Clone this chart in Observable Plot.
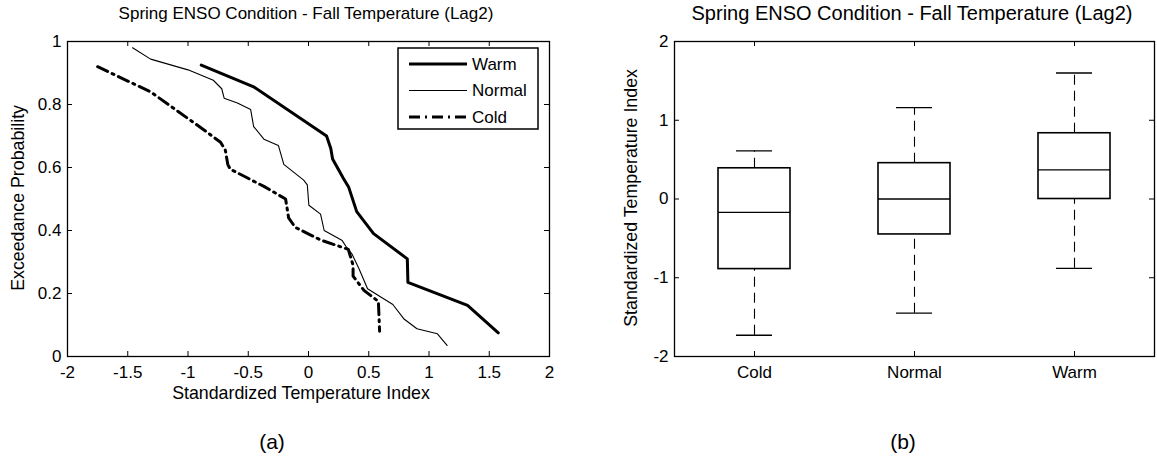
<!DOCTYPE html>
<html><head><meta charset="utf-8">
<script src="https://cdn.jsdelivr.net/npm/d3@7"></script>
<script src="https://cdn.jsdelivr.net/npm/@observablehq/plot@0.6"></script>
<style>
body{margin:0;background:#fff;font-family:"Liberation Sans",Arial,sans-serif;color:#000}
#wrap{position:relative;width:1157px;height:456px;overflow:hidden;background:#fff}
.abs{position:absolute;white-space:nowrap;line-height:1}
.plot{position:absolute;top:0}
</style></head><body><div id="wrap"></div>
<script>
// ---------- Panel (a): exceedance curves ----------
const titleText = "Spring ENSO Condition - Fall Temperature (Lag2)";
const seriesNames = ["Warm", "Normal", "Cold"];

const warmX = [-0.89, -0.45, 0.15, 0.185, 0.20, 0.29, 0.334, 0.40, 0.54, 0.82, 0.825, 1.32, 1.575];
const warmP = [0.925, 0.855, 0.70, 0.66, 0.627, 0.565, 0.537, 0.46, 0.39, 0.31, 0.235, 0.162, 0.075];

const normalX = [-1.46, -1.31, -1.0, -0.79, -0.72, -0.70, -0.59, -0.48, -0.455, -0.37, -0.25, -0.205, -0.04, -0.01, 0.003, 0.10, 0.13, 0.28, 0.31, 0.36, 0.42, 0.49, 0.70, 0.79, 0.90, 1.07, 1.15];
const normalP = [0.98, 0.944, 0.91, 0.877, 0.85, 0.82, 0.805, 0.784, 0.73, 0.69, 0.67, 0.61, 0.56, 0.545, 0.48, 0.452, 0.40, 0.368, 0.35, 0.326, 0.278, 0.215, 0.165, 0.12, 0.088, 0.072, 0.035];

const coldX = [-1.75, -1.53, -1.31, -1.09, -0.87, -0.73, -0.69, -0.67, -0.65, -0.37, -0.19, -0.165, -0.11, 0.10, 0.33, 0.37, 0.37, 0.46, 0.58, 0.59];
const coldP = [0.92, 0.88, 0.84, 0.78, 0.72, 0.68, 0.655, 0.61, 0.595, 0.54, 0.50, 0.44, 0.41, 0.37, 0.34, 0.29, 0.255, 0.21, 0.175, 0.08];

const aXTicks = [-2, -1.5, -1, -0.5, 0, 0.5, 1, 1.5, 2];
const aXTickLabels = ["-2", "-1.5", "-1", "-0.5", "0", "0.5", "1", "1.5", "2"];
const aYTicks = [0, 0.2, 0.4, 0.6, 0.8, 1];
const aYTickLabels = ["0", "0.2", "0.4", "0.6", "0.8", "1"];
const aXLabel = "Standardized Temperature Index";
const aYLabel = "Exceedance Probability";

// ---------- Panel (b): box plots ----------
const boxCats = ["Cold", "Normal", "Warm"];
const boxLow  = [-1.73, -1.45, -0.88];
const boxQ1   = [-0.89, -0.45, 0.0];
const boxMed  = [-0.17, 0.0, 0.37];
const boxQ3   = [0.39, 0.455, 0.835];
const boxHigh = [0.61, 1.16, 1.6];
const bYTicks = [-2, -1, 0, 1, 2];
const bYTickLabels = ["-2", "-1", "0", "1", "2"];
const bYLabel = "Standardized Temperature Index";

const FONT = '"Liberation Sans", Arial, sans-serif';
const wrap = document.getElementById("wrap");

function addText(txt, opts) {
  const d = document.createElement("div");
  d.className = "abs";
  d.textContent = txt;
  Object.assign(d.style, opts);
  wrap.appendChild(d);
  return d;
}

// ----- Plot A -----
const A = {W: 580, H: 400, mL: 67, mR: 31, mT: 41, mB: 44};
const aInnerH = A.H - A.mT - A.mB, aInnerW = A.W - A.mL - A.mR;
const toRows = (xs, ps) => xs.map((x, i) => ({x, p: ps[i]}));
const lbl = (ticks, labels) => d => labels[ticks.indexOf(d)];

const plotA = Plot.plot({
  width: A.W, height: A.H,
  marginLeft: A.mL, marginRight: A.mR, marginTop: A.mT, marginBottom: A.mB,
  style: {fontFamily: FONT, fontSize: "17px", color: "#000", background: "transparent", overflow: "visible"},
  x: {domain: [-2, 2], label: null},
  y: {domain: [0, 1], label: null},
  marks: [
    Plot.axisX(aXTicks, {tickSize: 0, tickPadding: 9, tickFormat: lbl(aXTicks, aXTickLabels), label: null}),
    Plot.axisY(aYTicks, {tickSize: 0, tickPadding: 6, tickFormat: lbl(aYTicks, aYTickLabels), label: null}),
    Plot.tickX(aXTicks, {x: d => d, insetTop: aInnerH - 5, stroke: "#000"}),
    Plot.tickX(aXTicks, {x: d => d, insetBottom: aInnerH - 5, stroke: "#000"}),
    Plot.tickY(aYTicks, {y: d => d, insetRight: aInnerW - 5, stroke: "#000"}),
    Plot.tickY(aYTicks, {y: d => d, insetLeft: aInnerW - 5, stroke: "#000"}),
    Plot.line(toRows(normalX, normalP), {x: "x", y: "p", stroke: "#000", strokeWidth: 1.1}),
    Plot.line(toRows(warmX, warmP), {x: "x", y: "p", stroke: "#000", strokeWidth: 3}),
    Plot.line(toRows(coldX, coldP), {x: "x", y: "p", stroke: "#000", strokeWidth: 3, strokeDasharray: "11,5,2,5"}),
    Plot.frame({stroke: "#000", strokeWidth: 1.3})
  ]
});
plotA.classList.add("plot");
plotA.style.left = "0px";
wrap.appendChild(plotA);

// ----- Plot B -----
const B = {L: 580, W: 577, H: 400, mL: 94, mR: 3, mT: 41, mB: 44};
const bInnerH = B.H - B.mT - B.mB, bInnerW = B.W - B.mL - B.mR;
const boxRows = boxCats.map((c, i) => ({c, lo: boxLow[i], q1: boxQ1[i], med: boxMed[i], q3: boxQ3[i], hi: boxHigh[i]}));
const band = bInnerW / boxCats.length;
const boxInset = (band - 72) / 2, capInset = (band - 36) / 2;

const plotB = Plot.plot({
  width: B.W, height: B.H,
  marginLeft: B.mL, marginRight: B.mR, marginTop: B.mT, marginBottom: B.mB,
  style: {fontFamily: FONT, fontSize: "17px", color: "#000", background: "transparent", overflow: "visible"},
  x: {type: "band", domain: boxCats, padding: 0, label: null},
  y: {domain: [-2, 2], label: null},
  marks: [
    Plot.axisX(boxCats, {tickSize: 0, tickPadding: 9, label: null}),
    Plot.axisY(bYTicks, {tickSize: 0, tickPadding: 6, tickFormat: lbl(bYTicks, bYTickLabels), label: null}),
    Plot.tickX(boxCats, {x: d => d, insetTop: bInnerH - 5, stroke: "#000"}),
    Plot.tickX(boxCats, {x: d => d, insetBottom: bInnerH - 5, stroke: "#000"}),
    Plot.tickY(bYTicks, {y: d => d, insetRight: bInnerW - 5, stroke: "#000"}),
    Plot.tickY(bYTicks, {y: d => d, insetLeft: bInnerW - 5, stroke: "#000"}),
    Plot.ruleX(boxRows, {x: "c", y1: "q3", y2: "hi", stroke: "#000", strokeWidth: 1.1, strokeDasharray: "10,6"}),
    Plot.ruleX(boxRows, {x: "c", y1: "lo", y2: "q1", stroke: "#000", strokeWidth: 1.1, strokeDasharray: "10,6"}),
    Plot.tickY(boxRows, {x: "c", y: "hi", insetLeft: capInset, insetRight: capInset, stroke: "#000", strokeWidth: 1.3}),
    Plot.tickY(boxRows, {x: "c", y: "lo", insetLeft: capInset, insetRight: capInset, stroke: "#000", strokeWidth: 1.3}),
    Plot.barY(boxRows, {x: "c", y1: "q1", y2: "q3", insetLeft: boxInset, insetRight: boxInset, fill: "#fff", stroke: "#000", strokeWidth: 1.6}),
    Plot.tickY(boxRows, {x: "c", y: "med", insetLeft: boxInset, insetRight: boxInset, stroke: "#000", strokeWidth: 1.3}),
    Plot.frame({stroke: "#000", strokeWidth: 1.3})
  ]
});
plotB.classList.add("plot");
plotB.style.left = B.L + "px";
wrap.appendChild(plotB);

// ----- Titles & labels -----
addText(titleText, {left: (306 - 300) + "px", width: "600px", textAlign: "center", top: "5px", fontSize: "17px"});
addText(titleText, {left: (912 - 300) + "px", width: "600px", textAlign: "center", top: "3px", fontSize: "20px"});
addText(aXLabel, {left: (301 - 200) + "px", width: "400px", textAlign: "center", top: "385px", fontSize: "17.8px"});
addText(aYLabel, {left: (19 - 150) + "px", width: "300px", textAlign: "center", top: (198 - 9) + "px", fontSize: "17.8px", transform: "rotate(-90deg)"});
addText(bYLabel, {left: (632 - 150) + "px", width: "300px", textAlign: "center", top: (198 - 9) + "px", fontSize: "17.8px", transform: "rotate(-90deg)"});
addText("(a)", {left: (272 - 50) + "px", width: "100px", textAlign: "center", top: "431px", fontSize: "21px"});
addText("(b)", {left: (903 - 50) + "px", width: "100px", textAlign: "center", top: "431px", fontSize: "21px"});

// ----- Legend for panel (a) -----
const legendStyles = [
  {w: 3, dash: null},
  {w: 1.1, dash: null},
  {w: 3, dash: "11,5,2,5"}
];
const ns = "http://www.w3.org/2000/svg";
const lg = document.createElementNS(ns, "svg");
lg.setAttribute("width", 142); lg.setAttribute("height", 83);
Object.assign(lg.style, {position: "absolute", left: "397px", top: "47px"});
const rect = document.createElementNS(ns, "rect");
rect.setAttribute("x", 1); rect.setAttribute("y", 1); rect.setAttribute("width", 140); rect.setAttribute("height", 81);
rect.setAttribute("fill", "#fff"); rect.setAttribute("stroke", "#000"); rect.setAttribute("stroke-width", 1.5);
lg.appendChild(rect);
seriesNames.forEach((name, i) => {
  const yy = 17 + i * 26.5;
  const ln = document.createElementNS(ns, "line");
  ln.setAttribute("x1", 12); ln.setAttribute("x2", 70); ln.setAttribute("y1", yy); ln.setAttribute("y2", yy);
  ln.setAttribute("stroke", "#000"); ln.setAttribute("stroke-width", legendStyles[i].w);
  if (legendStyles[i].dash) ln.setAttribute("stroke-dasharray", legendStyles[i].dash);
  lg.appendChild(ln);
  const t = document.createElementNS(ns, "text");
  t.setAttribute("x", 75); t.setAttribute("y", yy); t.setAttribute("dy", "0.35em");
  t.setAttribute("font-family", FONT); t.setAttribute("font-size", "17px");
  t.textContent = name;
  lg.appendChild(t);
});
wrap.appendChild(lg);
</script></body></html>
